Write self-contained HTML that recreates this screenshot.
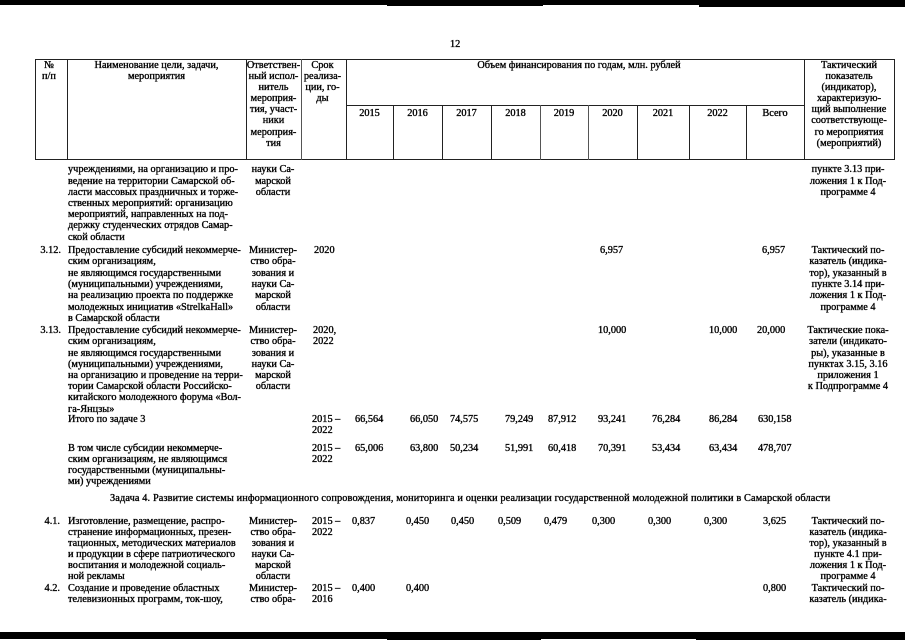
<!DOCTYPE html>
<html>
<head>
<meta charset="utf-8">
<style>
html,body{margin:0;padding:0;}
body{width:905px;height:640px;position:relative;background:#fff;overflow:hidden;
font-family:"Liberation Serif","DejaVu Serif",serif;font-size:10.3px;color:#000;}
.t{position:absolute;white-space:nowrap;line-height:11.2px;-webkit-text-stroke:0.35px #000;}
.c{text-align:center;}
.h{position:absolute;background:#222;height:1px;}
.v{position:absolute;background:#222;width:1px;}
.bk{position:absolute;background:#000;}
</style>
</head>
<body>

<!-- top band -->
<div class="bk" style="left:0;top:0;width:905px;height:5px;"></div>
<div class="bk" style="left:387px;top:0;width:156px;height:6px;"></div>
<div class="bk" style="left:699px;top:0;width:206px;height:7px;"></div>

<!-- bottom band -->
<div class="bk" style="left:0;top:632px;width:905px;height:7px;"></div>
<div class="bk" style="left:387px;top:632px;width:154px;height:8px;"></div>
<div class="bk" style="left:696px;top:633px;width:209px;height:7px;"></div>

<!-- page number -->
<div class="t" style="left:450px;top:39px;">12</div>

<!-- header grid -->
<div class="h" style="left:35px;top:59px;width:860px;"></div>
<div class="h" style="left:346px;top:105px;width:458px;"></div>
<div class="h" style="left:35px;top:159px;width:860px;"></div>
<div class="v" style="left:35px;top:59px;height:101px;"></div>
<div class="v" style="left:67px;top:59px;height:101px;"></div>
<div class="v" style="left:246px;top:59px;height:101px;"></div>
<div class="v" style="left:301px;top:59px;height:101px;background:#555;"></div>
<div class="v" style="left:346px;top:59px;height:101px;"></div>
<div class="v" style="left:804px;top:59px;height:101px;"></div>
<div class="v" style="left:894px;top:59px;height:101px;"></div>
<div class="v" style="left:393px;top:105px;height:55px;"></div>
<div class="v" style="left:442px;top:105px;height:55px;"></div>
<div class="v" style="left:491px;top:105px;height:55px;"></div>
<div class="v" style="left:540px;top:105px;height:55px;background:#555;"></div>
<div class="v" style="left:588px;top:105px;height:55px;background:#555;"></div>
<div class="v" style="left:637px;top:105px;height:55px;"></div>
<div class="v" style="left:689px;top:105px;height:55px;"></div>
<div class="v" style="left:746px;top:105px;height:55px;"></div>

<!-- header text -->
<div class="t c" style="left:33px;top:60px;width:32px;line-height:11.1px;">№<br>п/п</div>
<div class="t c" style="left:67px;top:60px;width:179px;line-height:11.1px;">Наименование цели, задачи,<br>мероприятия</div>
<div class="t c" style="left:246px;top:60px;width:55px;line-height:11.1px;">Ответствен-<br>ный испол-<br>нитель<br>мероприя-<br>тия, участ-<br>ники<br>мероприя-<br>тия</div>
<div class="t c" style="left:300px;top:60px;width:45px;line-height:11.1px;">Срок<br>реализа-<br>ции, го-<br>ды</div>
<div class="t c" style="left:350px;top:60px;width:458px;line-height:11.1px;">Объем финансирования по годам, млн. рублей</div>
<div class="t c" style="left:802px;top:60px;width:94px;line-height:11.1px;">Тактический<br>показатель<br>(индикатор),<br>характеризую-<br>щий выполнение<br>соответствующе-<br>го мероприятия<br>(мероприятий)</div>

<div class="t c" style="left:346px;top:108px;width:47px;">2015</div>
<div class="t c" style="left:393px;top:108px;width:49px;">2016</div>
<div class="t c" style="left:442px;top:108px;width:49px;">2017</div>
<div class="t c" style="left:491px;top:108px;width:49px;">2018</div>
<div class="t c" style="left:540px;top:108px;width:48px;">2019</div>
<div class="t c" style="left:588px;top:108px;width:49px;">2020</div>
<div class="t c" style="left:637px;top:108px;width:52px;">2021</div>
<div class="t c" style="left:689px;top:108px;width:57px;">2022</div>
<div class="t c" style="left:746px;top:108px;width:58px;">Всего</div>

<!-- Row continuation -->
<div class="t" style="left:68px;top:164.4px;">учреждениями, на организацию и про-<br>ведение на территории Самарской об-<br>ласти массовых праздничных и торже-<br>ственных мероприятий: организацию<br>мероприятий, направленных на под-<br>держку студенческих отрядов Самар-<br>ской области</div>
<div class="t c" style="left:243px;top:164.4px;width:60px;">науки Са-<br>марской<br>области</div>
<div class="t c" style="left:800px;top:164.4px;width:96px;">пункте 3.13 при-<br>ложения 1 к Под-<br>программе 4</div>

<!-- 3.12 -->
<div class="t" style="left:18px;top:244.8px;width:43px;text-align:right;">3.12.</div>
<div class="t" style="left:68px;top:244.8px;line-height:11.4px;">Предоставление субсидий некоммерче-<br>ским организациям,<br>не являющимся государственными<br>(муниципальными) учреждениями,<br>на реализацию проекта по поддержке<br>молодежных инициатив «StrelkaHall»<br>в Самарской области</div>
<div class="t c" style="left:243px;top:244.8px;width:60px;line-height:11.4px;">Министер-<br>ство обра-<br>зования и<br>науки Са-<br>марской<br>области</div>
<div class="t" style="left:314px;top:244.8px;">2020</div>
<div class="t" style="left:600px;top:244.8px;">6,957</div>
<div class="t" style="left:762px;top:244.8px;">6,957</div>
<div class="t c" style="left:800px;top:244.8px;width:96px;line-height:11.4px;">Тактический по-<br>казатель (индика-<br>тор), указанный в<br>пункте 3.14 при-<br>ложения 1 к Под-<br>программе 4</div>

<!-- 3.13 -->
<div class="t" style="left:18px;top:325.1px;width:43px;text-align:right;">3.13.</div>
<div class="t" style="left:68px;top:325.1px;">Предоставление субсидий некоммерче-<br>ским организациям,<br>не являющимся государственными<br>(муниципальными) учреждениями,<br>на организацию и проведение на терри-<br>тории Самарской области Российско-<br>китайского молодежного форума «Вол-<br>га-Янцзы»</div>
<div class="t c" style="left:243px;top:325.1px;width:60px;">Министер-<br>ство обра-<br>зования и<br>науки Са-<br>марской<br>области</div>
<div class="t" style="left:313px;top:325.1px;">2020,<br>2022</div>
<div class="t" style="left:598px;top:325.1px;">10,000</div>
<div class="t" style="left:709px;top:325.1px;">10,000</div>
<div class="t" style="left:757px;top:325.1px;">20,000</div>
<div class="t c" style="left:800px;top:325.1px;width:96px;">Тактические пока-<br>затели (индикато-<br>ры), указанные в<br>пунктах 3.15, 3.16<br>приложения 1<br>к Подпрограмме 4</div>

<!-- Итого -->
<div class="t" style="left:68px;top:414.4px;">Итого по задаче 3</div>
<div class="t" style="left:312px;top:414.4px;line-height:11px;">2015 –<br>2022</div>
<div class="t" style="left:355px;top:414.4px;">66,564</div>
<div class="t" style="left:410px;top:414.4px;">66,050</div>
<div class="t" style="left:450px;top:414.4px;">74,575</div>
<div class="t" style="left:505px;top:414.4px;">79,249</div>
<div class="t" style="left:548px;top:414.4px;">87,912</div>
<div class="t" style="left:598px;top:414.4px;">93,241</div>
<div class="t" style="left:652px;top:414.4px;">76,284</div>
<div class="t" style="left:709px;top:414.4px;">86,284</div>
<div class="t" style="left:758px;top:414.4px;">630,158</div>

<!-- В том числе -->
<div class="t" style="left:68px;top:442.9px;line-height:11.1px;">В том числе субсидии некоммерче-<br>ским организациям, не являющимся<br>государственными (муниципальны-<br>ми) учреждениями</div>
<div class="t" style="left:312px;top:442.9px;line-height:11px;">2015 –<br>2022</div>
<div class="t" style="left:355px;top:442.9px;">65,006</div>
<div class="t" style="left:410px;top:442.9px;">63,800</div>
<div class="t" style="left:450px;top:442.9px;">50,234</div>
<div class="t" style="left:505px;top:442.9px;">51,991</div>
<div class="t" style="left:548px;top:442.9px;">60,418</div>
<div class="t" style="left:598px;top:442.9px;">70,391</div>
<div class="t" style="left:652px;top:442.9px;">53,434</div>
<div class="t" style="left:709px;top:442.9px;">63,434</div>
<div class="t" style="left:758px;top:442.9px;">478,707</div>

<!-- Задача 4 -->
<div class="t" style="left:110px;top:492.5px;letter-spacing:0.12px;">Задача 4. Развитие системы информационного сопровождения, мониторинга и оценки реализации государственной молодежной политики в Самарской области</div>

<!-- 4.1 -->
<div class="t" style="left:18px;top:516px;width:42px;text-align:right;">4.1.</div>
<div class="t" style="left:68px;top:516px;line-height:11.1px;">Изготовление, размещение, распро-<br>странение информационных, презен-<br>тационных, методических материалов<br>и продукции в сфере патриотического<br>воспитания и молодежной социаль-<br>ной рекламы</div>
<div class="t c" style="left:243px;top:516px;width:60px;line-height:11.1px;">Министер-<br>ство обра-<br>зования и<br>науки Са-<br>марской<br>области</div>
<div class="t" style="left:312px;top:516px;line-height:11px;">2015 –<br>2022</div>
<div class="t" style="left:352px;top:516px;">0,837</div>
<div class="t" style="left:406px;top:516px;">0,450</div>
<div class="t" style="left:451px;top:516px;">0,450</div>
<div class="t" style="left:498px;top:516px;">0,509</div>
<div class="t" style="left:544px;top:516px;">0,479</div>
<div class="t" style="left:592px;top:516px;">0,300</div>
<div class="t" style="left:648px;top:516px;">0,300</div>
<div class="t" style="left:704px;top:516px;">0,300</div>
<div class="t" style="left:763px;top:516px;">3,625</div>
<div class="t c" style="left:800px;top:516px;width:96px;line-height:11.1px;">Тактический по-<br>казатель (индика-<br>тор), указанный в<br>пункте 4.1 при-<br>ложения 1 к Под-<br>программе 4</div>

<!-- 4.2 -->
<div class="t" style="left:18px;top:583px;width:42px;text-align:right;">4.2.</div>
<div class="t" style="left:68px;top:583px;line-height:11px;">Создание и проведение областных<br>телевизионных программ, ток-шоу,</div>
<div class="t c" style="left:243px;top:583px;width:60px;line-height:11px;">Министер-<br>ство обра-</div>
<div class="t" style="left:312px;top:583px;line-height:11px;">2015 –<br>2016</div>
<div class="t" style="left:352px;top:583px;">0,400</div>
<div class="t" style="left:406px;top:583px;">0,400</div>
<div class="t" style="left:763px;top:583px;">0,800</div>
<div class="t c" style="left:800px;top:583px;width:96px;line-height:11px;">Тактический по-<br>казатель (индика-</div>

</body>
</html>
